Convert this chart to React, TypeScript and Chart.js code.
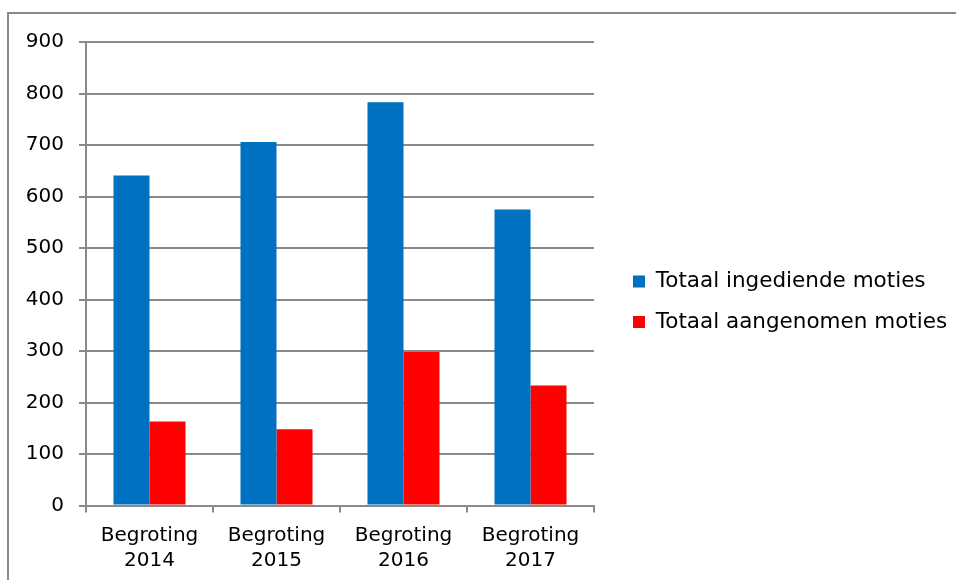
import React, { useEffect, useRef } from "react";
import { Chart, registerables } from "chart.js";

Chart.register(...registerables);

const categories: string[][] = [
  ["Begroting", "2014"],
  ["Begroting", "2015"],
  ["Begroting", "2016"],
  ["Begroting", "2017"],
];
const ingediend: number[] = [641, 706, 783, 575];
const aangenomen: number[] = [163, 148, 298, 233];
const seriesLabels: string[] = ["Totaal ingediende moties", "Totaal aangenomen moties"];

const GRID = "#898989";
const FONT = "'DejaVu Sans', Verdana, sans-serif";

const framePlugin = {
  id: "frame",
  beforeDraw(chart: any) {
    const ctx = chart.ctx;
    ctx.save();
    ctx.fillStyle = "#ffffff";
    ctx.fillRect(0, 0, chart.width, chart.height);
    ctx.strokeStyle = GRID;
    ctx.lineWidth = 2;
    ctx.beginPath();
    ctx.moveTo(8, chart.height + 2);
    ctx.lineTo(8, 13);
    ctx.lineTo(chart.width + 2, 13);
    ctx.stroke();
    ctx.restore();
  },
};

export default function App() {
  const ref = useRef<HTMLCanvasElement | null>(null);

  useEffect(() => {
    if (!ref.current) return;
    const chart = new Chart(ref.current, {
      type: "bar",
      data: {
        labels: categories,
        datasets: [
          {
            label: seriesLabels[0],
            data: ingediend,
            backgroundColor: "#0070C0",
            borderWidth: 0,
            yAxisID: "y",
          },
          {
            label: seriesLabels[1],
            data: aangenomen,
            backgroundColor: "#FF0000",
            borderWidth: 0,
            yAxisID: "y",
          },
        ],
      },
      plugins: [framePlugin],
      options: {
        responsive: false,
        animation: false,
        devicePixelRatio: 1,
        layout: { padding: { left: 26, top: 23.5, right: 0, bottom: 0 } },
        datasets: {
          bar: { categoryPercentage: 0.567, barPercentage: 1 },
        },
        plugins: {
          title: { display: false },
          tooltip: { enabled: false },
          legend: {
            position: "right",
            align: "center",
            maxWidth: 342,
            labels: {
              boxWidth: 12,
              boxHeight: 12,
              padding: 19,
              color: "#000",
              font: { family: FONT, size: 21.5 },
            },
          },
        },
        scales: {
          x: {
            offset: true,
            grid: {
              display: true,
              drawOnChartArea: false,
              drawTicks: true,
              tickLength: 7,
              color: GRID,
              lineWidth: 2,
              offset: true,
            },
            border: { display: true, color: GRID, width: 2 },
            ticks: {
              color: "#000",
              padding: 11,
              maxRotation: 0,
              font: { family: FONT, size: 20, lineHeight: 1.25 },
            },
            afterFit: (s: any) => {
              s.height = 74.5;
            },
          },
          topGap: {
            type: "linear",
            position: "top",
            display: true,
            ticks: { display: false },
            grid: { display: false },
            border: { display: false },
            afterFit: (s: any) => {
              s.height = 18.5;
            },
          },
          y: {
            min: 0,
            max: 900,
            ticks: {
              stepSize: 100,
              color: "#000",
              padding: 15,
              font: { family: FONT, size: 20 },
            },
            grid: { color: GRID, lineWidth: 2, tickLength: 7, drawTicks: true },
            border: { display: true, color: GRID, width: 2 },
            afterFit: (s: any) => {
              s.width = 60;
            },
          },
          gap: {
            type: "linear",
            position: "right",
            display: true,
            ticks: { display: false },
            grid: { display: false },
            border: { display: false },
            afterFit: (s: any) => {
              s.width = 20;
            },
          },
        },
      },
    });
    return () => chart.destroy();
  }, []);

  return (
    <div
      style={{
        position: "fixed",
        left: 0,
        top: 0,
        width: 956,
        height: 580,
        overflow: "hidden",
        background: "#fff",
      }}
    >
      <canvas
        ref={ref}
        width={956}
        height={580}
        style={{ position: "absolute", left: 0, top: 0, width: 956, height: 580 }}
      />
    </div>
  );
}
